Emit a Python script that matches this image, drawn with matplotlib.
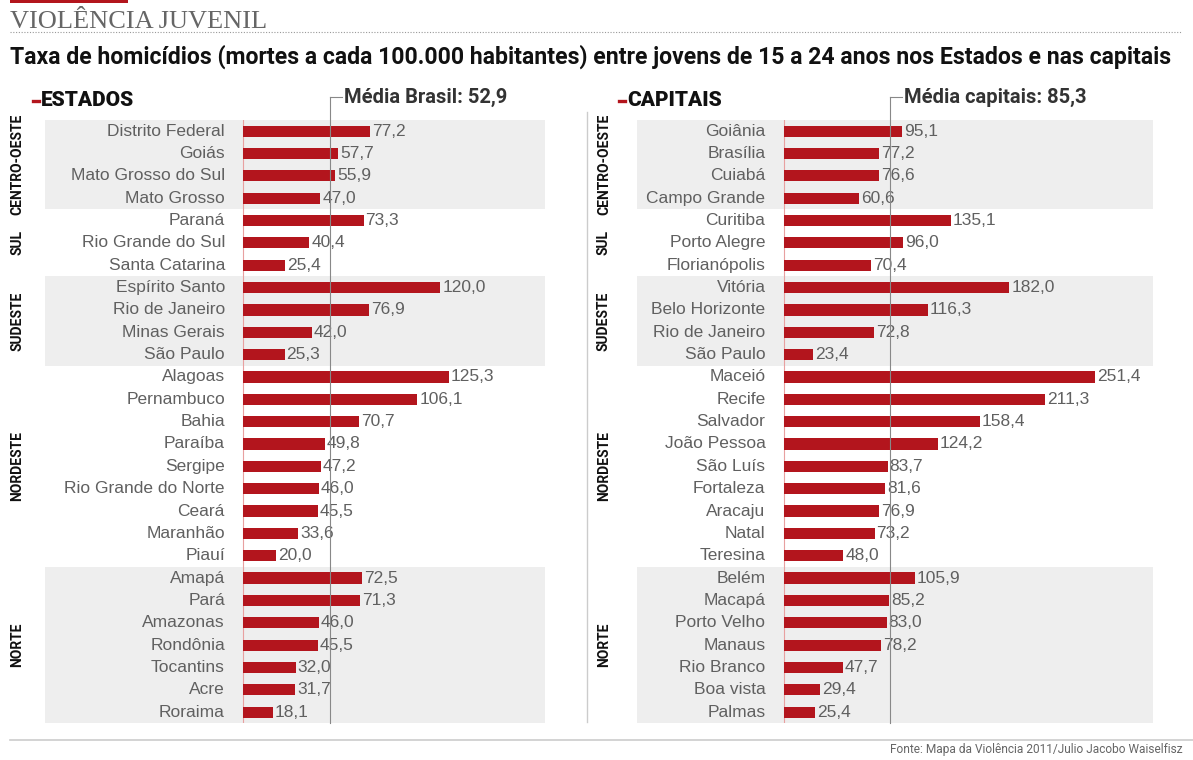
import matplotlib
matplotlib.use("Agg")
import matplotlib.pyplot as plt
from matplotlib.transforms import blended_transform_factory
from matplotlib.lines import Line2D
from matplotlib.patches import Rectangle

# ---- data ----
regions = ["CENTRO-OESTE", "SUL", "SUDESTE", "NORDESTE", "NORTE"]
region_sizes = [4, 3, 4, 9, 7]
shaded_regions = ["CENTRO-OESTE", "SUDESTE", "NORTE"]

states = ["Distrito Federal", "Goiás", "Mato Grosso do Sul", "Mato Grosso",
          "Paraná", "Rio Grande do Sul", "Santa Catarina",
          "Espírito Santo", "Rio de Janeiro", "Minas Gerais", "São Paulo",
          "Alagoas", "Pernambuco", "Bahia", "Paraíba", "Sergipe",
          "Rio Grande do Norte", "Ceará", "Maranhão", "Piauí",
          "Amapá", "Pará", "Amazonas", "Rondônia", "Tocantins", "Acre", "Roraima"]
state_rates = [77.2, 57.7, 55.9, 47.0,
               73.3, 40.4, 25.4,
               120.0, 76.9, 42.0, 25.3,
               125.3, 106.1, 70.7, 49.8, 47.2, 46.0, 45.5, 33.6, 20.0,
               72.5, 71.3, 46.0, 45.5, 32.0, 31.7, 18.1]
state_mean = 52.9

capitals = ["Goiânia", "Brasília", "Cuiabá", "Campo Grande",
            "Curitiba", "Porto Alegre", "Florianópolis",
            "Vitória", "Belo Horizonte", "Rio de Janeiro", "São Paulo",
            "Maceió", "Recife", "Salvador", "João Pessoa", "São Luís",
            "Fortaleza", "Aracaju", "Natal", "Teresina",
            "Belém", "Macapá", "Porto Velho", "Manaus", "Rio Branco",
            "Boa vista", "Palmas"]
capital_rates = [95.1, 77.2, 76.6, 60.6,
                 135.1, 96.0, 70.4,
                 182.0, 116.3, 72.8, 23.4,
                 251.4, 211.3, 158.4, 124.2, 83.7, 81.6, 76.9, 73.2, 48.0,
                 105.9, 85.2, 83.0, 78.2, 47.7, 29.4, 25.4]
capital_mean = 85.3

# ---- style ----
W, H = 1193, 760
BAR = "#b3151d"
GREY_TXT = "#606060"
BAND = "#eeeeee"
SANS = ["Liberation Sans", "DejaVu Sans"]
BOLD = ["Roboto", "DejaVu Sans"]

fig = plt.figure(figsize=(W / 100, H / 100), dpi=100)
fig.patch.set_facecolor("white")


def px(x, y):
    """pixel (from top-left) to figure fraction"""
    return x / W, 1 - y / H


def fmt(v):
    return f"{v:.1f}".replace(".", ",")


def panel(x0, x1, zero_px, scale, names, values, mean, mean_label,
          label_gap, region_x):
    top, bottom = 120, 723.3
    ax = fig.add_axes([x0 / W, 1 - bottom / H, (x1 - x0) / W, (bottom - top) / H])
    ax.set_xlim((x0 - zero_px) / scale, (x1 - zero_px) / scale)
    n = len(names)
    ax.set_ylim(n - 0.5, -0.5)
    ax.axis("off")

    # region bands and labels
    start = 0
    trans = blended_transform_factory(fig.transFigure, ax.transData)
    for reg, size in zip(regions, region_sizes):
        if reg in shaded_regions:
            ax.axhspan(start - 0.5, start + size - 0.5, color=BAND, lw=0, zorder=0)
        ax.text(region_x / W, start + (size - 1) / 2, reg, transform=trans,
                rotation=90, ha="center", va="center", fontsize=10,
                fontweight="bold", family=BOLD, color="#111111")
        start += size

    ys = list(range(n))
    ax.barh(ys, values, height=0.5, color=BAR, zorder=3)
    ax.axvline(0, color="#e8a0a0", lw=0.8, zorder=2)

    for y, name, v in zip(ys, names, values):
        ax.text(-label_gap, y, name, ha="right", va="center", fontsize=12.5,
                color=GREY_TXT, family=SANS, zorder=4)
        ax.text(v + 2 / scale, y, fmt(v), ha="left", va="center", fontsize=12.5,
                color=GREY_TXT, family=SANS, zorder=4)

    # average marker
    ax.plot([mean, mean], [n - 0.5, -1.55], color="#888888", lw=0.8,
            clip_on=False, zorder=5)
    ax.plot([mean, mean + 12 / scale], [-1.55, -1.55], color="#888888", lw=0.8,
            clip_on=False, zorder=5)
    ax.text(mean + 14 / scale, -1.5, mean_label, ha="left", va="center",
            fontsize=14.5, fontweight="bold", color="#333333", family=BOLD,
            clip_on=False)
    return ax


panel(45, 545, 243, 1.644, states, state_rates, state_mean,
      "Média Brasil: 52,9", 11, 17)
panel(637, 1153, 784, 1.237, capitals, capital_rates, capital_mean,
      "Média capitais: 85,3", 15, 604)

# section headers
for x, label in [(33, "ESTADOS"), (619, "CAPITAIS")]:
    fig.add_artist(Line2D([x / W, (x + 6) / W], [1 - 101 / H] * 2,
                          color=BAR, lw=2.4))
    fig.text((x + 8) / W, 1 - 100 / H, label, ha="left", va="center",
             fontsize=15, fontweight="heavy", family=BOLD, color="#111111")

# divider between the two panels and bottom rule
fig.add_artist(Line2D([587 / W, 587 / W], [1 - 112 / H, 1 - 722 / H],
                      color="#cccccc", lw=1.0))
fig.add_artist(Line2D([10 / W, 1193 / W], [1 - 740 / H] * 2,
                      color="#cccccc", lw=1.2))

# title block
fig.add_artist(Rectangle(px(10, 3), 118 / W, 3 / H, color=BAR, lw=0))
fig.text(*px(10, 22), "VIOLÊNCIA JUVENIL", ha="left", va="center",
         fontsize=19, family=["Liberation Serif", "DejaVu Serif"],
         color="#666666")
fig.add_artist(Line2D([10 / W, 1182 / W], [1 - 32 / H] * 2, color="#999999",
                      lw=0.8, linestyle=(0, (1, 1.5))))
fig.text(*px(10, 57), "Taxa de homicídios (mortes a cada 100.000 habitantes) "
         "entre jovens de 15 a 24 anos nos Estados e nas capitais",
         ha="left", va="center", fontsize=16.6, fontweight="bold", family=BOLD,
         color="#111111")

fig.text(*px(1183, 749), "Fonte: Mapa da Violência 2011/Julio Jacobo Waiselfisz",
         ha="right", va="center", fontsize=8.6, family=BOLD, color="#666666")

fig.savefig("out.png", dpi=100, facecolor="white")
